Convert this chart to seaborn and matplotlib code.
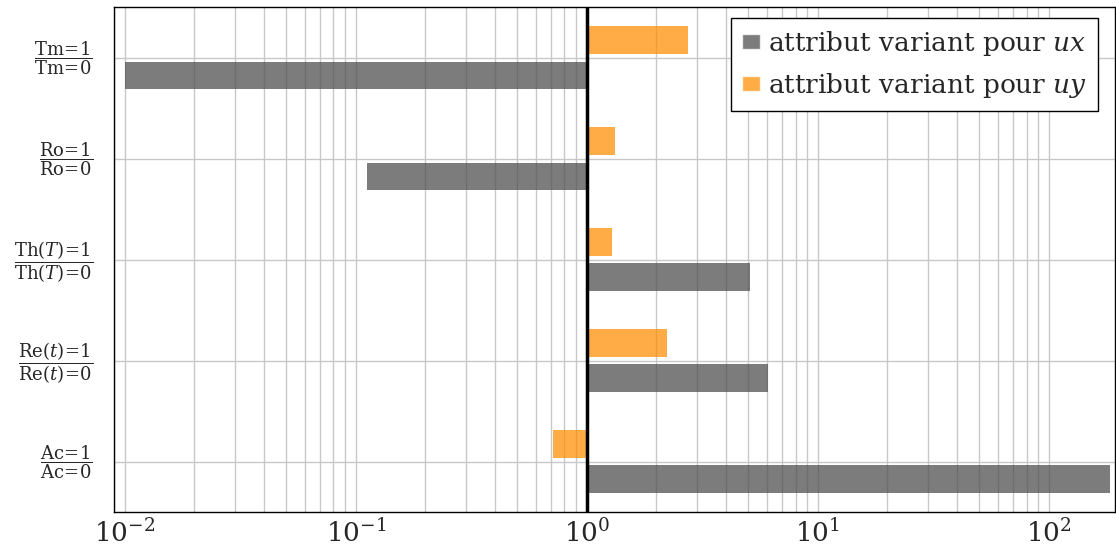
import pandas as pd
import matplotlib.pyplot as plt
from matplotlib.patches import Patch
from matplotlib.transforms import ScaledTranslation
import seaborn as sns

# ratios (bars start at 1)
categories = ['Tm', 'Ro', 'Th(T)', 'Re(t)', 'Ac']
ratio_ux = [0.0100, 0.112, 5.1, 6.1, 183.0]
ratio_uy = [2.73, 1.32, 1.28, 2.22, 0.713]
tick_labels = [
    r'$\dfrac{\mathrm{Tm}\!=\!1}{\mathrm{Tm}\!=\!0}$',
    r'$\dfrac{\mathrm{Ro}\!=\!1}{\mathrm{Ro}\!=\!0}$',
    r'$\dfrac{\mathrm{Th}(T)\!=\!1}{\mathrm{Th}(T)\!=\!0}$',
    r'$\dfrac{\mathrm{Re}(t)\!=\!1}{\mathrm{Re}(t)\!=\!0}$',
    r'$\dfrac{\mathrm{Ac}\!=\!1}{\mathrm{Ac}\!=\!0}$',
]
legend_labels = ['attribut variant pour $ux$', 'attribut variant pour $uy$']

gray = '#4a4a4a'
orange = '#ff8c00'

df = pd.DataFrame({
    'cat': categories * 2,
    'ratio': ratio_ux + ratio_uy,
    'serie': ['ux'] * len(categories) + ['uy'] * len(categories),
})
df['shift'] = df['ratio'] - 1

sns.set_style('white')
plt.rcParams['font.family'] = ['DejaVu Serif']
plt.rcParams['mathtext.fontset'] = 'dejavuserif'

fig = plt.figure(figsize=(11.16, 5.5), dpi=100)
ax = fig.add_axes([0.102, 0.069, 0.897, 0.918])

sns.barplot(data=df, y='cat', x='shift', hue='serie', hue_order=['uy', 'ux'],
            order=categories, palette={'ux': gray, 'uy': orange},
            orient='h', width=0.7, gap=0.22, errorbar=None, alpha=0.72,
            saturation=1, left=1, linewidth=0, legend=False, ax=ax)

ax.set_xscale('log')
ax.set_xlim(0.00896, 193)
ax.set_ylim(4.5, -0.5)
ax.axvline(1, color='black', lw=2.5, zorder=4)

ax.set_axisbelow(True)
ax.grid(True, which='both', axis='x', color='#c8c8c8', lw=1)
ax.grid(True, which='major', axis='y', color='#c8c8c8', lw=1)

ax.set_yticks(range(len(categories)))
ax.set_yticklabels(tick_labels)
ax.tick_params(axis='y', length=10, color='#c8c8c8', labelsize=13, pad=5)
ax.tick_params(axis='x', which='both', direction='in', color='#999999', labelsize=19, pad=5)
ax.tick_params(axis='x', which='major', length=6)
ax.tick_params(axis='x', which='minor', length=3)
ax.set_xlabel('')
ax.set_ylabel('')
shift_up = ScaledTranslation(0, 6 / 100, fig.dpi_scale_trans)
for lab in ax.get_yticklabels():
    lab.set_transform(lab.get_transform() + shift_up)
for s in ax.spines.values():
    s.set_color('black')
    s.set_linewidth(1)

handles = [Patch(facecolor=gray, alpha=0.72), Patch(facecolor=orange, alpha=0.72)]
leg = ax.legend(handles, legend_labels, loc='upper right', fontsize=19,
                frameon=True, fancybox=False, edgecolor='black', framealpha=1,
                handlelength=0.7, handleheight=0.5, handletextpad=0.3,
                borderpad=0.4, labelspacing=0.5, borderaxespad=0,
                bbox_to_anchor=(0.983, 0.978))
leg.get_frame().set_linewidth(1)

fig.savefig('out.png', dpi=100)
